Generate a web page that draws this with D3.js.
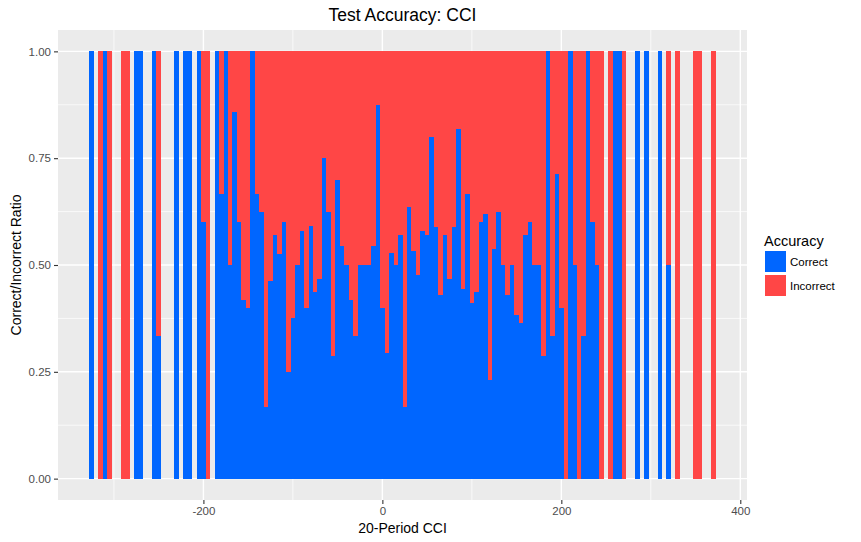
<!DOCTYPE html>
<html>
<head>
<meta charset="utf-8">
<script src="https://cdn.jsdelivr.net/npm/d3@7"></script>
<style>
  html, body { margin: 0; padding: 0; background: #ffffff; }
  svg { display: block; font-family: "Liberation Sans", Arial, Helvetica, sans-serif; }
</style>
</head>
<body>
<svg id="chart" width="861" height="542"></svg>
<script>
// ---- Data ----
const binWidth = 5;
const binCenters = [
  -325, -315, -310, -305, -290, -285, -275, -270, -255, -250,
  -230, -220, -215, -205, -200, -195, -185, -180, -175, -170,
  -165, -160, -155, -150, -145, -140, -135, -130, -125, -120,
  -115, -110, -105, -100, -95, -90, -85, -80, -75, -70,
  -65, -60, -55, -50, -45, -40, -35, -30, -25, -20,
  -15, -10, -5, 0, 5, 10, 15, 20, 25, 30,
  35, 40, 45, 50, 55, 60, 65, 70, 75, 80,
  85, 90, 95, 100, 105, 110, 115, 120, 125, 130,
  135, 140, 145, 150, 155, 160, 165, 170, 175, 180,
  185, 190, 195, 200, 205, 210, 215, 220, 225, 230,
  235, 240, 245, 255, 260, 265, 270, 285, 295, 310,
  320, 330, 350, 355, 370
];
const correctRatio = [
  1, 0, 1, 0, 0, 0, 1, 1, 1, 0.333,
  1, 1, 1, 1, 0.6, 0, 1, 0.667, 1, 0.5,
  0.857, 0.6, 0.417, 0.4, 1, 0.667, 0.625, 0.167, 0.462, 0.571,
  0.526, 0.6, 0.25, 0.375, 0.5, 0.579, 0.4, 0.591, 0.4375, 0.467,
  0.75, 0.625, 0.286, 0.7, 0.545, 0.5, 0.417, 0.333, 0.5, 0.5,
  0.5, 0.545, 0.875, 0.4, 0.294, 0.528, 0.5, 0.571, 0.167, 0.636,
  0.533, 0.476, 0.579, 0.571, 0.8, 0.588, 0.429, 0.571, 0.467, 0.588,
  0.818, 0.444, 0.667, 0.412, 0.4375, 0.6, 0.62, 0.232, 0.537, 0.625,
  0.5, 0.429, 0.5, 0.383, 0.364, 0.571, 0.6, 0.5, 0.5, 0.286,
  1, 0.333, 0.714, 0.4, 0, 1, 0.5, 0, 0.333, 1,
  0.6, 0.5, 0, 0, 1, 1, 0, 1, 1, 1,
  0.5, 0, 0, 0, 0
];
const categories = ["Correct", "Incorrect"];
const colors = ["#0066FF", "#FF4646"];
const xTicks = [-200, 0, 200, 400];
const xMinor = [-300, -100, 100, 300];
const yTicks = [0, 0.25, 0.5, 0.75, 1.0];
const yMinor = [0.125, 0.375, 0.625, 0.875];

// ---- Layout ----
const panel = { left: 58, right: 747, top: 30, bottom: 500 };
const svg = d3.select("#chart");

const x = d3.scaleLinear().domain([-362.5, 407.5]).range([panel.left, panel.right]);
const y = d3.scaleLinear().domain([-0.05, 1.05]).range([panel.bottom, panel.top]);

// panel background
svg.append("rect")
  .attr("x", panel.left).attr("y", panel.top)
  .attr("width", panel.right - panel.left).attr("height", panel.bottom - panel.top)
  .attr("fill", "#EBEBEB");

const grid = svg.append("g");
// minor grid
grid.selectAll(".xminor").data(xMinor).enter().append("line")
  .attr("x1", d => x(d)).attr("x2", d => x(d))
  .attr("y1", panel.top).attr("y2", panel.bottom)
  .attr("stroke", "#ffffff").attr("stroke-width", 0.7);
grid.selectAll(".yminor").data(yMinor).enter().append("line")
  .attr("y1", d => y(d)).attr("y2", d => y(d))
  .attr("x1", panel.left).attr("x2", panel.right)
  .attr("stroke", "#ffffff").attr("stroke-width", 0.7);
// major grid
grid.selectAll(".xmajor").data(xTicks).enter().append("line")
  .attr("x1", d => x(d)).attr("x2", d => x(d))
  .attr("y1", panel.top).attr("y2", panel.bottom)
  .attr("stroke", "#ffffff").attr("stroke-width", 1.4);
grid.selectAll(".ymajor").data(yTicks).enter().append("line")
  .attr("y1", d => y(d)).attr("y2", d => y(d))
  .attr("x1", panel.left).attr("x2", panel.right)
  .attr("stroke", "#ffffff").attr("stroke-width", 1.4);

// ---- Bars (stacked fill) ----
const bins = binCenters.map((c, i) => ({ c, r: correctRatio[i] }));
const bars = svg.append("g").attr("shape-rendering", "crispEdges");
bins.forEach(b => {
  const x0 = x(b.c - binWidth / 2), x1 = x(b.c + binWidth / 2);
  if (b.r > 0) {
    bars.append("rect")
      .attr("x", x0).attr("width", x1 - x0)
      .attr("y", y(b.r)).attr("height", y(0) - y(b.r))
      .attr("fill", colors[0]);
  }
  if (b.r < 1) {
    bars.append("rect")
      .attr("x", x0).attr("width", x1 - x0)
      .attr("y", y(1)).attr("height", y(b.r) - y(1))
      .attr("fill", colors[1]);
  }
});

// ---- Axes ----
const xAxis = d3.axisBottom(x).tickValues(xTicks).tickSize(4).tickPadding(3)
  .tickFormat(d => String(d));
const gx = svg.append("g").attr("transform", `translate(0,${panel.bottom})`).call(xAxis);
gx.select(".domain").remove();
gx.selectAll(".tick line").attr("stroke", "#333333").attr("stroke-width", 1.1);
gx.selectAll(".tick text").attr("fill", "#4D4D4D").style("font-size", "11.5px")
  .style("font-family", "Liberation Sans, Arial, sans-serif");

const yAxis = d3.axisLeft(y).tickValues(yTicks).tickSize(4).tickPadding(3)
  .tickFormat(d3.format(".2f"));
const gy = svg.append("g").attr("transform", `translate(${panel.left},0)`).call(yAxis);
gy.select(".domain").remove();
gy.selectAll(".tick line").attr("stroke", "#333333").attr("stroke-width", 1.1);
gy.selectAll(".tick text").attr("fill", "#4D4D4D").style("font-size", "11.5px")
  .style("font-family", "Liberation Sans, Arial, sans-serif");

// ---- Titles ----
svg.append("text")
  .attr("x", (panel.left + panel.right) / 2).attr("y", 21)
  .attr("text-anchor", "middle").attr("fill", "#000")
  .style("font-size", "17.5px").text("Test Accuracy: CCI");

svg.append("text")
  .attr("x", (panel.left + panel.right) / 2).attr("y", 533)
  .attr("text-anchor", "middle").attr("fill", "#000")
  .style("font-size", "14px").text("20-Period CCI");

svg.append("text")
  .attr("transform", `translate(21,${(panel.top + panel.bottom) / 2}) rotate(-90)`)
  .attr("text-anchor", "middle").attr("fill", "#000")
  .style("font-size", "14px").text("Correct/Incorrect Ratio");

// ---- Legend ----
const legend = svg.append("g").attr("transform", "translate(764,0)");
legend.append("text").attr("x", 0).attr("y", 246).attr("fill", "#000")
  .style("font-size", "14.5px").text("Accuracy");
categories.forEach((cat, i) => {
  const ky = 251 + i * 24;
  legend.append("rect").attr("x", 1).attr("y", ky).attr("width", 21).attr("height", 21)
    .attr("fill", colors[i]);
  legend.append("text").attr("x", 26).attr("y", ky + 10.5).attr("dy", "0.35em")
    .attr("fill", "#000").style("font-size", "11.5px").text(cat);
});
</script>
</body>
</html>
